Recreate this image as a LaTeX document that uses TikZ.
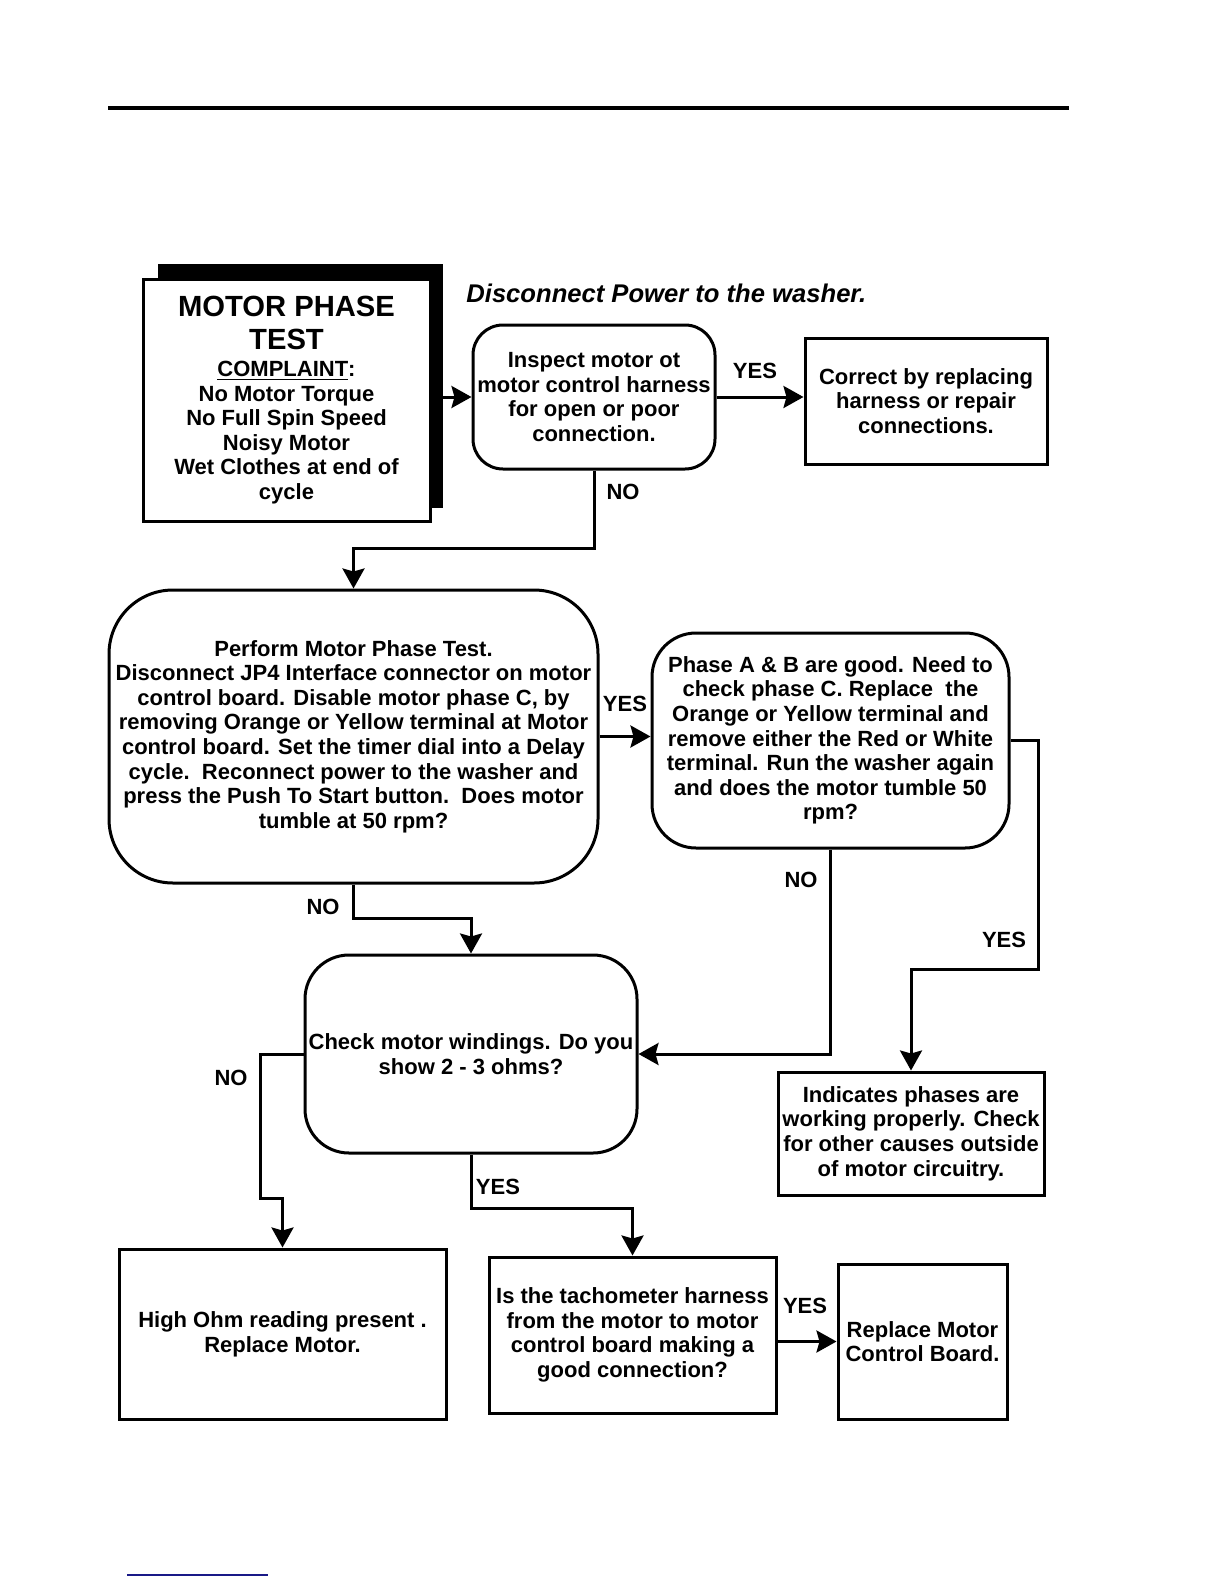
\documentclass[tikz,border=0pt]{standalone}
\usepackage{fontspec}
\setmainfont{Liberation Sans}
\usetikzlibrary{arrows.meta,positioning}
\definecolor{navyline}{RGB}{25,25,135}
\tikzset{
	boxtext/.style={font=\bfseries\fontsize{11}{12.3}\selectfont, align=center, inner sep=1pt},
	plainbox/.style={boxtext, draw, line width=1.5pt, fill=white},
	roundbox/.style={plainbox, rounded corners=#1},
	answer/.style={font=\bfseries\fontsize{11}{12.3}\selectfont, inner sep=0pt}
}
\begin{document}
\begin{tikzpicture}[x=0.5pt, y=-0.5pt, line join=miter, >={Stealth[length=10pt,width=11pt,inset=1.5pt]}]
	
	\useasboundingbox (0,0) rectangle (1224,1584);
	\coordinate (yesturn) at (0,969);
	\coordinate (noturn) at (260,1198);
	
	% rules
	\draw[line width=2pt] (108,108) -- (1069,108);
	\draw[navyline, line width=1pt] (127,1575) -- (268,1575);
	
	% title box with shadow
	\fill (158,264) rectangle (443,508);
	\node[plainbox, minimum width=143.5pt, minimum height=121pt] (title) at (286.5,400)
	{{\fontsize{14.6}{16.5}\selectfont MOTOR PHASE}\\[4.5pt]
		{\fontsize{14.6}{16.5}\selectfont TEST}\\[1pt]
		\underline{COMPLAINT}:\\ No Motor Torque\\ No Full Spin Speed\\
		Noisy Motor\\ Wet Clothes at end of\\ cycle};
	
	\node[font=\bfseries\itshape\fontsize{12.8}{14}\selectfont, anchor=west, inner sep=0pt]
	(power) at (466,293) {Disconnect Power to the washer.};
	
	% boxes
	\node[roundbox=15pt, minimum width=121pt, minimum height=72pt] (inspect) at (594,397)
	{Inspect motor ot\\ motor control harness\\ for open or poor\\ connection.};
	\node[plainbox, minimum width=121pt, minimum height=63pt] (correct) at (926,401)
	{Correct by replacing\\ harness or repair\\ connections.};
	\node[roundbox=32pt, minimum width=244.5pt, minimum height=146.5pt] (perform) at (353.5,736.5)
	{Perform Motor Phase Test.\\ Disconnect JP4 Interface connector on motor\\
		control board. Disable motor phase C, by\\ removing Orange or Yellow terminal at Motor\\
		control board. Set the timer dial into a Delay\\ cycle.\ \ Reconnect power to the washer and\\
		press the Push To Start button.\ \ Does motor\\ tumble at 50 rpm?};
	\node[roundbox=22pt, minimum width=178.5pt, minimum height=107.5pt] (phase) at (830.5,740.5)
	{Phase A \& B are good. Need to\\ check phase C. Replace\ \ the\\ Orange or Yellow terminal and\\
		remove either the Red or White\\ terminal. Run the washer again\\ and does the motor tumble 50\\ rpm?};
	\node[roundbox=22pt, minimum width=166pt, minimum height=99pt] (check) at (471,1054)
	{Check motor windings. Do you\\ show 2 - 3 ohms?};
	\node[plainbox, minimum width=133pt, minimum height=61.5pt] (indicates) at (911,1133.5)
	{Indicates phases are\\ working properly. Check\\ for other causes outside\\ of motor circuitry.};
	\node[plainbox, minimum width=163.5pt, minimum height=85pt] (highohm) at (282.5,1334)
	{High Ohm reading present .\\ Replace Motor.};
	\node[plainbox, minimum width=143.5pt, minimum height=78pt] (tach) at (632.5,1335)
	{Is the tachometer harness\\ from the motor to motor\\ control board making a\\ good connection?};
	\node[plainbox, minimum width=84.5pt, minimum height=77.5pt] (replace) at (922.5,1341.5)
	{Replace Motor\\ Control Board.};
	
	% connectors
	\begin{scope}[line width=1.5pt]
		\draw[->] (title.east |- inspect.west) -- (inspect.west);
		\draw[->] (inspect.east) -- (inspect.east -| correct.west);
		\draw[->] (inspect.south) -- ++(0,78) -| (perform.north);
		\draw[->] (perform.east) -- (perform.east -| phase.west);
		\draw[->] (perform.south) -- ++(0,34) -| (check.north);
		\draw[->] (phase.south) |- (check.east);
		\draw[->] (phase.east) -- ++(28,0) |- (indicates.north |- yesturn) -- (indicates.north);
		\draw[->] (check.west) -| (noturn) -- (highohm.north |- noturn) -- (highohm.north);
		\draw[->] (check.south) -- ++(0,54) -| (tach.north);
		\draw[->] (tach.east |- replace.west) -- (replace.west);
	\end{scope}
	
	% answers
	\node[answer] (yesa) at (755,371) {YES};
	\node[answer] (noa) at (623,492) {NO};
	\node[answer] (yesb) at (625,704) {YES};
	\node[answer] (nob) at (323,907) {NO};
	\node[answer] (noc) at (801,880) {NO};
	\node[answer] (yesc) at (1004,940) {YES};
	\node[answer] (nod) at (231,1078) {NO};
	\node[answer] (yesd) at (498,1187) {YES};
	\node[answer] (yese) at (805,1306) {YES};
	
\end{tikzpicture}
\end{document}
